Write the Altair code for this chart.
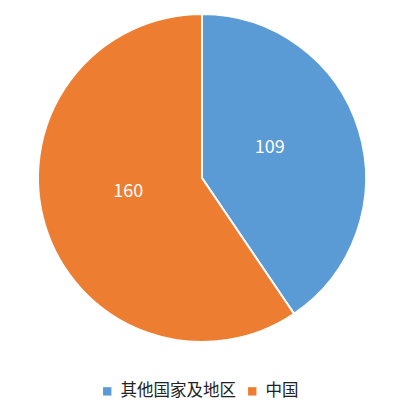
import altair as alt
import pandas as pd

# Share of items by region
regions = ["其他国家及地区", "中国"]
counts = [109, 160]
colors = ["#5B9BD5", "#ED7D31"]

df = pd.DataFrame({"region": regions, "count": counts, "order": [0, 1]})

cx, cy = 202, 178

base = alt.Chart(df).encode(
    theta=alt.Theta("count:Q", stack=True),
    order=alt.Order("order:Q"),
)

arcs = base.mark_arc(radius=164, stroke="white", strokeWidth=2).encode(
    x=alt.value(cx),
    y=alt.value(cy),
    color=alt.Color(
        "region:N",
        scale=alt.Scale(domain=regions, range=colors),
        sort=regions,
        legend=alt.Legend(
            title=None,
            orient="none",
            legendX=99,
            legendY=383,
            padding=0,
            direction="horizontal",
            symbolType="square",
            symbolSize=70,
            symbolStrokeWidth=0,
            labelFontSize=16.5,
            labelFont="Noto Sans CJK SC",
            labelColor="#222222",
            columnPadding=8,
            labelOffset=5,
        ),
    ),
)

labels = base.mark_text(
    radius=74, dx=-3, dy=-8, fontSize=18, color="white", font="Noto Sans CJK SC"
).encode(
    x=alt.value(cx),
    y=alt.value(cy),
    text="count:Q",
)

chart = (
    alt.layer(arcs, labels)
    .properties(width=400, height=409, padding=0, autosize=alt.AutoSizeParams(type="none"))
    .configure_view(stroke=None)
)

chart.save("out.html", embed_options={"renderer": "svg", "actions": False})
